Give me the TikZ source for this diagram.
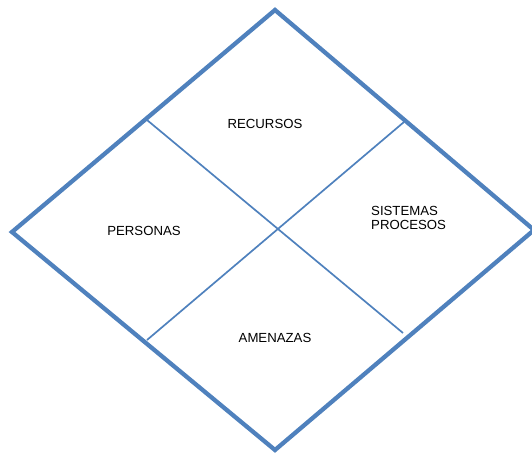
\documentclass[tikz,border=0pt]{standalone}
\usepackage{fontspec}
\setmainfont{Liberation Sans}
\definecolor{dblue}{HTML}{4F81BD}
\begin{document}
\begin{tikzpicture}[x=1pt,y=-1pt,
  outer/.style={draw=dblue,line width=4.3pt,line join=miter},
  inner/.style={draw=dblue,line width=1.7pt},
  lbl/.style={font=\fontsize{13.2}{14.5}\selectfont,inner sep=0pt,text=black}]
\useasboundingbox (0,0) rectangle (532,454);
\coordinate (T) at (275,10);
\coordinate (L) at (12,232);
\coordinate (R) at (534,230);
\coordinate (B) at (275,450);
\coordinate (a1) at (147,120);
\coordinate (a2) at (403,333);
\coordinate (b1) at (147,340);
\coordinate (b2) at (404,122);
\draw[outer] (T) -- (R) -- (B) -- (L) -- cycle;
\draw[inner] (a1) -- (a2);
\draw[inner] (b1) -- (b2);
\node[lbl] (rec) at (265,124) {RECURSOS};
\node[lbl] (per) at (144,231) {PERSONAS};
\node[lbl] (ame) at (275,338) {AMENAZAS};
\node[lbl,align=left,anchor=west] (sis) at (371,218) {SISTEMAS\\PROCESOS};
\end{tikzpicture}
\end{document}
